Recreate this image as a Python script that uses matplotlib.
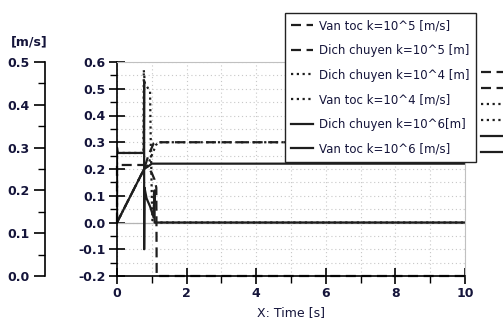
import matplotlib
matplotlib.use("Agg")
import matplotlib.pyplot as plt

# ---------------- data ----------------
t_v5 = [0, 0, 0.78, 0.9, 1.0, 1.08, 1.13, 1.14, 1.18, 10]
y_v5 = [0, 0.215, 0.215, 0.205, 0.185, 0.16, 0.13, -0.2, -0.2, -0.2]

t_d5 = [0, 0.78, 0.9, 1.05, 1.1, 10]
y_d5 = [0, 0.2, 0.25, 0.295, 0.3, 0.3]

t_d4 = [0, 0.78, 0.87, 1.12, 1.2, 10]
y_d4 = [0, 0.2, 0.21, 0.29, 0.3, 0.3]

t_v4 = [0, 0, 0.76, 0.77, 0.8, 0.9, 0.95, 0.97, 1.0, 1.02, 10]
y_v4 = [0, 0.26, 0.26, 0.57, 0.52, 0.5, 0.49, 0.3, 0.1, 0.0, 0.0]

t_d6 = [0, 0.78, 0.9, 1.0, 1.1, 10]
y_d6 = [0, 0.2, 0.21, 0.22, 0.22, 0.22]

t_v6 = [0, 0, 0.02, 0.77, 0.78, 0.78, 0.79, 0.85, 0.95, 1.05, 1.08, 1.08, 1.1, 10]
y_v6 = [0, 0.28, 0.26, 0.26, 0.53, -0.1, 0.13, 0.09, 0.06, 0.02, 0.12, 0.0, 0.0, 0.0]

labels = ["Van toc k=10^5 [m/s]", "Dich chuyen k=10^5 [m]", "Dich chuyen k=10^4 [m]",
          "Van toc k=10^4 [m/s]", "Dich chuyen k=10^6[m]", "Van toc k=10^6 [m/s]"]

x_ticks = [0, 2, 4, 6, 8, 10]
x_minor = [1, 3, 5, 7, 9]
y_ticks = [-0.2, -0.1, 0.0, 0.1, 0.2, 0.3, 0.4, 0.5, 0.6]
y_minor = [-0.15, -0.05, 0.05, 0.15, 0.25, 0.35, 0.45, 0.55]
y2_ticks = [0.0, 0.1, 0.2, 0.3, 0.4, 0.5]
y2_minor = [0.05, 0.15, 0.25, 0.35, 0.45]

txt_col = "#14143a"
line_col = "#1e1e1e"
dash = (0, (4.5, 2.5))
dot = (0, (1, 1.6))

plt.rcParams['font.family'] = ['DejaVu Sans']

fig = plt.figure(figsize=(5.03, 3.2), dpi=100)
ax = fig.add_axes([117/503, 1-276/320, 348/503, 214/320])

h = []
h += ax.plot(t_v5, y_v5, color=line_col, lw=1.6, linestyle=dash, clip_on=False)
h += ax.plot(t_d5, y_d5, color=line_col, lw=1.6, linestyle=dash)
h += ax.plot(t_d4, y_d4, color=line_col, lw=1.6, linestyle=dot)
h += ax.plot(t_v4, y_v4, color=line_col, lw=1.6, linestyle=dot)
h += ax.plot(t_d6, y_d6, color=line_col, lw=1.6)
h += ax.plot(t_v6, y_v6, color=line_col, lw=1.6)

ax.set_xlim(0, 10)
ax.set_ylim(-0.2, 0.6)
ax.set_xticks(x_ticks, [str(v) for v in x_ticks], fontweight='bold')
ax.set_xticks(x_minor, minor=True)
ax.set_yticks(y_ticks, [f"{v:.1f}" for v in y_ticks], fontweight='bold')
ax.set_yticks(y_minor, minor=True)
ax.grid(which='both', color='#c8c8c8', linestyle=(0, (1, 2.5)), lw=0.8)
ax.axhline(0, color='#b4b4b4', lw=0.9, zorder=1)
ax.set_axisbelow(True)

for s in ['top', 'right']:
    ax.spines[s].set_color('#c0c0c0')
for s in ['left', 'bottom']:
    ax.spines[s].set_color('black')
    ax.spines[s].set_linewidth(1.2)

ax.tick_params(which='major', direction='inout', length=12, width=1.2, color='black')
ax.tick_params(which='minor', direction='out', length=5, width=1.0, color='black')
ax.tick_params(axis='both', labelcolor=txt_col, labelsize=9, pad=2)
ax.set_xlabel("X: Time [s]", color=txt_col, fontsize=9, labelpad=4)

# extra left axis (velocity scale)
ax2 = fig.add_axes([45/503, 1-276/320, 0.001, 214/320])
ax2.set_ylim(0, 0.5)
ax2.set_xticks([])
for s in ['top', 'right', 'bottom']:
    ax2.spines[s].set_visible(False)
ax2.spines['left'].set_linewidth(1.2)
ax2.patch.set_visible(False)
ax2.set_yticks(y2_ticks, [f"{v:.1f}" for v in y2_ticks], fontweight='bold')
ax2.set_yticks(y2_minor, minor=True)
ax2.tick_params(which='major', direction='out', length=8, width=1.2)
ax2.tick_params(which='minor', direction='out', length=5, width=1.0)
ax2.tick_params(axis='y', labelcolor=txt_col, labelsize=9, pad=3)
fig.text(11/503, 1-45/320, "[m/s]", color=txt_col, fontsize=9, fontweight='bold')

leg = fig.legend(h, labels, loc='upper left', bbox_to_anchor=(285/503, 1-13/320),
                 borderaxespad=0, fontsize=8.5, handlelength=1.8, labelspacing=0.98,
                 borderpad=0.55, handletextpad=0.5, fancybox=False, framealpha=1,
                 edgecolor='#222222', labelcolor=txt_col)
leg.get_frame().set_linewidth(1.0)

# second legend, only its line samples show at the right edge
leg2 = fig.legend(h, [''] * len(h), loc='upper left', bbox_to_anchor=(478/503, 1-64/320),
                  borderaxespad=0, fontsize=7, handlelength=2.5, labelspacing=0.62,
                  borderpad=0.3, frameon=False)

fig.savefig("out.png", dpi=100)
